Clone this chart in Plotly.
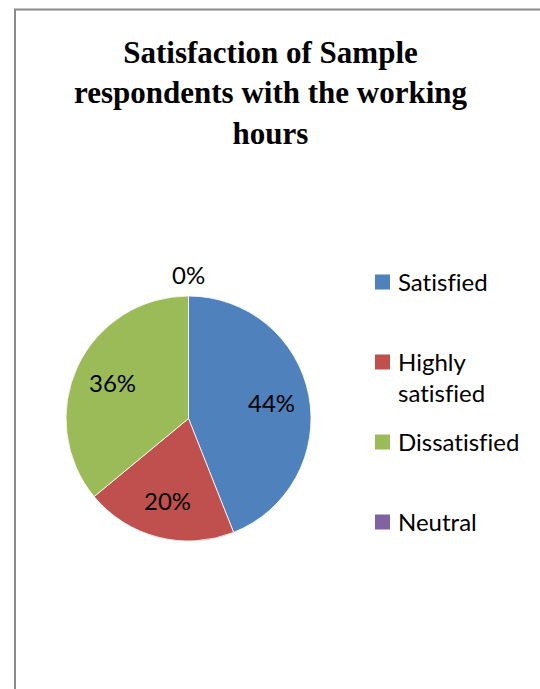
import textwrap
import math
import plotly.graph_objects as go

# ---- data ----
categories = ["Satisfied", "Highly satisfied", "Dissatisfied", "Neutral"]
values = [44, 20, 36, 0]
colors = ["#4F81BD", "#C0504D", "#9BBB59", "#8064A2"]
title_lines = ["Satisfaction of Sample", "respondents with the working", "hours"]

W, H = 540, 689
LABEL_FONT = "Lato, 'Open Sans', sans-serif"
FS = 24


def px(x):
    return x / W


def py(y):
    return 1 - y / H


# pie geometry (pixels)
cx, cy, R = 188.5, 418.5, 122.5

fig = go.Figure()
fig.add_trace(go.Pie(
    labels=categories,
    values=values,
    marker=dict(colors=colors, line=dict(color="white", width=0.8)),
    sort=False,
    direction="clockwise",
    rotation=0,
    textinfo="none",
    domain=dict(x=[px(cx - R), px(cx + R)], y=[py(cy + R), py(cy - R)]),
    showlegend=False,
    hoverinfo="label+percent",
))

annotations = []
shapes = []

# data labels: percent of each slice, placed at slice mid-angle
total = sum(values)
cum = 0
for lab, v in zip(categories, values):
    if v == 0:
        ang = math.radians(cum / total * 360)
        rr = R + 22
    else:
        ang = math.radians((cum + v / 2) / total * 360)
        rr = 0.69 * R
    annotations.append(dict(
        x=px(cx + rr * math.sin(ang)), y=py(cy - rr * math.cos(ang)),
        xref="paper", yref="paper", showarrow=False,
        text=f"{round(100 * v / total)}%",
        font=dict(family=LABEL_FONT, size=FS, color="black"),
        xanchor="center", yanchor="middle"))
    cum += v

# title
annotations.append(dict(
    x=px(271), y=py(33), xref="paper", yref="paper", showarrow=False,
    text="<b>" + "<br>".join(title_lines) + "</b>",
    font=dict(family="'Liberation Serif', 'Times New Roman', serif", size=31, color="black"),
    xanchor="center", yanchor="top", align="center"))

# legend (built from categories/colors)
leg_x_sq, leg_sq, leg_x_txt = 375, 15, 397
leg_y0, leg_pitch = 282, 80
lh = FS * 1.3
for i, (lab, col) in enumerate(zip(categories, colors)):
    yc = leg_y0 + i * leg_pitch
    shapes.append(dict(type="rect", xref="paper", yref="paper",
                       x0=px(leg_x_sq), x1=px(leg_x_sq + leg_sq),
                       y0=py(yc - leg_sq / 2), y1=py(yc + leg_sq / 2),
                       fillcolor=col, line=dict(width=0)))
    annotations.append(dict(
        x=px(leg_x_txt), y=py(yc - lh / 2), xref="paper", yref="paper",
        showarrow=False, borderpad=0,
        text="<br>".join(textwrap.wrap(lab, 12)),
        font=dict(family=LABEL_FONT, size=FS, color="black"),
        xanchor="left", yanchor="top", align="left"))

# chart frame (left and top edges visible)
shapes.append(dict(type="path", xref="paper", yref="paper",
                   path=f"M {px(15)} 0 L {px(15)} {py(9.5)} L 1 {py(9.5)}",
                   line=dict(color="#8a8a8a", width=2)))

fig.update_layout(
    width=W, height=H,
    margin=dict(l=0, r=0, t=0, b=0),
    paper_bgcolor="white", plot_bgcolor="white",
    showlegend=False,
    annotations=annotations,
    shapes=shapes,
)

fig.write_html(
    "out.html",
    config={"displayModeBar": False},
    post_script=(
        "document.body.style.margin='0';document.body.style.overflow='hidden';"
        "document.head.insertAdjacentHTML('beforeend',"
        "'<style>.main-svg text{font-variant-ligatures:none;font-feature-settings:\"liga\" 0;}</style>');"
    ),
)
